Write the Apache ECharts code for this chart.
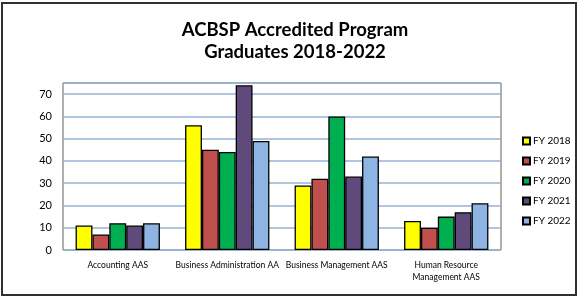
<!DOCTYPE html>
<html><head><meta charset="utf-8">
<script src="https://cdn.jsdelivr.net/npm/echarts@6/dist/echarts.min.js"></script>
<style>html,body{margin:0;padding:0;background:#fff;}#c{width:578px;height:298px;}</style>
</head><body><div id="c"></div>
<script>
const categories = ['Accounting AAS', 'Business Administration AA', 'Business Management AAS', 'Human Resource\nManagement AAS'];
const seriesNames = ['FY 2018', 'FY 2019', 'FY 2020', 'FY 2021', 'FY 2022'];
const fy2018 = [11, 56, 29, 13];
const fy2019 = [7, 45, 32, 10];
const fy2020 = [12, 44, 60, 15];
const fy2021 = [11, 74, 33, 17];
const fy2022 = [12, 49, 42, 21];
const colors = ['#FFFF00', '#C0504D', '#00B050', '#604A7B', '#8DB4E2'];
const values = [fy2018, fy2019, fy2020, fy2021, fy2022];

const chart = echarts.init(document.getElementById('c'), null, {renderer: 'canvas'});
chart.setOption({
  animation: false,
  textStyle: {fontFamily: 'Lato'},
  graphic: [{
    type: 'rect', shape: {x: 2, y: 3, width: 574, height: 292},
    style: {fill: 'none', stroke: '#303030', lineWidth: 2}, silent: true
  }, {
    type: 'text', x: 295, y: 19, silent: true,
    style: {text: 'ACBSP Accredited Program\nGraduates 2018-2022', align: 'center', verticalAlign: 'top',
      fontFamily: 'Lato', fontWeight: 'bold', fontSize: 18.5, lineHeight: 22, fill: '#000'}
  }],
  legend: {
    orient: 'vertical', left: 517, top: 130,
    itemWidth: 7, itemHeight: 7, itemGap: 8,
    icon: 'rect',
    textStyle: {fontFamily: 'Lato', fontSize: 10, lineHeight: 12, color: '#000', padding: [0, 0, 0, -2]},
    data: seriesNames
  },
  grid: {left: 63, top: 83, width: 438, height: 167, show: true, borderColor: '#606060', borderWidth: 1, containLabel: false},
  xAxis: {
    type: 'category', data: categories,
    axisLine: {show: false}, axisTick: {show: false},
    axisLabel: {fontFamily: 'Lato', fontSize: 8.5, color: '#000', margin: 9, lineHeight: 12, interval: 0}
  },
  yAxis: {
    type: 'value', min: 0, max: 75, interval: 10,
    axisLine: {show: false}, axisTick: {show: false},
    axisLabel: {fontFamily: 'Lato', fontSize: 11, color: '#000', showMaxLabel: false, margin: 11},
    splitLine: {lineStyle: {color: '#95B3D7', width: 1.5}}
  },
  series: values.map((v, i) => ({
    name: seriesNames[i], type: 'bar', data: v,
    barGap: '0%', barCategoryGap: '23%',
    itemStyle: {color: colors[i], borderColor: '#000', borderWidth: 1.3}
  }))
});
</script></body></html>
